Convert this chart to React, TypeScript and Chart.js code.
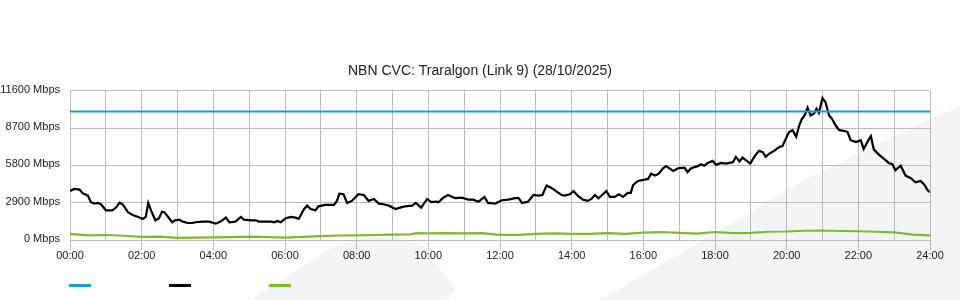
import { useEffect, useRef } from "react";
import { Chart, registerables } from "chart.js";

Chart.register(...registerables);

const chartTitle = "NBN CVC: Traralgon (Link 9) (28/10/2025)";
const yMax = 11600;
const yStep = 2900;

const capacityMinutes = [0, 1440];
const capacityMbps = [10000, 10000];

const trafficMinutes = [
  0, 7, 16, 21, 30, 35, 41, 46, 52, 60, 71, 77, 83, 88, 97, 105, 113, 122, 127, 131,
  136, 143, 149, 154, 158, 164, 171, 176, 183, 189, 197, 205, 210, 222, 233, 244, 252, 261, 267, 277,
  286, 291, 303, 311, 316, 328, 336, 342, 347, 353, 361, 370, 378, 383, 392, 397, 403, 411, 416, 427,
  442, 447, 451, 458, 464, 472, 483, 492, 500, 509, 517, 525, 534, 545, 553, 561, 573, 579, 588, 598,
  605, 613, 617, 625, 633, 645, 656, 667, 675, 684, 694, 700, 712, 723, 734, 745, 751, 757, 767, 776,
  784, 791, 798, 807, 815, 823, 828, 837, 843, 851, 859, 867, 873, 879, 885, 891, 898, 904, 912, 919,
  926, 934, 939, 943, 951, 962, 968, 973, 979, 985, 993, 998, 1010, 1018, 1029, 1034, 1040, 1051, 1057, 1062,
  1068, 1076, 1082, 1090, 1098, 1110, 1115, 1121, 1126, 1132, 1139, 1147, 1154, 1160, 1165, 1171, 1179, 1188, 1193, 1199,
  1204, 1210, 1216, 1221, 1225, 1230, 1235, 1240, 1246, 1250, 1254, 1260, 1265, 1271, 1276, 1282, 1288, 1296, 1302, 1307,
  1316, 1324, 1329, 1335, 1341, 1346, 1355, 1363, 1371, 1377, 1382, 1391, 1399, 1408, 1416, 1424, 1431, 1436, 1440,
];

const trafficMbps = [
  3810, 3970, 3920, 3640, 3450, 2940, 2830, 2880, 2780, 2310, 2310, 2520, 2900, 2780, 2160, 1950, 1810, 1640, 1810, 2880,
  2260, 1530, 1690, 2200, 2160, 1810, 1380, 1530, 1580, 1430, 1320, 1320, 1380, 1430, 1430, 1270, 1430, 1740, 1380, 1430,
  1790, 1580, 1530, 1530, 1430, 1430, 1430, 1380, 1480, 1380, 1690, 1790, 1740, 1640, 2410, 2670, 2410, 2310, 2620, 2730,
  2730, 3040, 3600, 3560, 2880, 3040, 3560, 3500, 3040, 3190, 2830, 2780, 2670, 2410, 2520, 2620, 2670, 2880, 2520, 3190,
  2940, 2980, 2940, 3290, 3500, 3250, 3290, 3140, 3140, 2980, 3350, 2880, 2830, 3090, 3140, 3250, 3250, 2880, 2980, 3500,
  3450, 3500, 4230, 4030, 3760, 3500, 3450, 3560, 3810, 3400, 3140, 3040, 3190, 3500, 3250, 3500, 3810, 3350, 3350, 3560,
  3350, 3660, 3660, 4280, 4590, 4690, 4750, 5160, 5010, 5120, 5580, 5740, 5370, 5580, 5630, 5270, 5580, 5740, 5890, 5780,
  5990, 6150, 5840, 5990, 5940, 6050, 6460, 6100, 6410, 6200, 5940, 6560, 6930, 6830, 6460, 6720, 6930, 7240, 7300, 7920,
  8390, 8540, 8020, 8900, 9370, 9680, 10300, 9680, 9830, 10200, 9890, 11030, 10720, 9680, 9420, 8900, 8540, 8490, 8390, 7760,
  7610, 7760, 7080, 7610, 8070, 7030, 6620, 6310, 5990, 5890, 5430, 5780, 5010, 4800, 4490, 4590, 4280, 3870, 3710,
];

const otherMinutes = [
  0, 30, 60, 90, 120, 150, 180, 210, 240, 270, 300, 330, 360, 390, 420, 450, 480, 510, 540, 570, 580,
  600, 630, 660, 690, 720, 750, 780, 810, 840, 870, 900, 930, 960, 990, 1020, 1050, 1080, 1110, 1140,
  1170, 1200, 1230, 1260, 1290, 1320, 1350, 1380, 1410, 1440,
];
const otherMbps = [
  470, 360, 390, 330, 240, 260, 160, 190, 200, 220, 260, 230, 180, 250, 300, 350, 360, 390, 420, 440, 540,
  520, 540, 520, 540, 400, 400, 480, 520, 480, 480, 530, 480, 580, 620, 560, 500, 620, 540, 560,
  640, 660, 720, 740, 700, 680, 640, 600, 420, 360,
];

const gridColor = "#bcbcbc";
const fontFamily = "'Liberation Sans', Arial, sans-serif";

function hhmm(m: number) {
  const h = Math.floor(m / 60);
  const mm = m % 60;
  return String(h).padStart(2, "0") + ":" + String(mm).padStart(2, "0");
}

function toPoints(xs: number[], ys: number[]) {
  return xs.map((x, i) => ({ x, y: ys[i] }));
}

const watermarkPlugin = {
  id: "watermark",
  beforeDraw(chart: any) {
    const ctx = chart.ctx as CanvasRenderingContext2D;
    ctx.save();
    ctx.fillStyle = "#f3f4f6";
    ctx.beginPath();
    ctx.moveTo(600, 300);
    ctx.lineTo(687, 250);
    ctx.lineTo(804, 180);
    ctx.lineTo(932, 118);
    ctx.lineTo(960, 107);
    ctx.lineTo(960, 300);
    ctx.closePath();
    ctx.fill();
    ctx.beginPath();
    ctx.moveTo(250, 300);
    ctx.lineTo(338, 244);
    ctx.quadraticCurveTo(390, 228, 425, 246);
    ctx.lineTo(455, 290);
    ctx.lineTo(447, 300);
    ctx.closePath();
    ctx.fill();
    ctx.restore();
  },
};

const lineLegendPlugin = {
  id: "lineLegend",
  afterDraw(chart: any) {
    const ctx = chart.ctx as CanvasRenderingContext2D;
    const left = chart.chartArea.left;
    ctx.save();
    chart.data.datasets.forEach((ds: any, i: number) => {
      ctx.strokeStyle = ds.borderColor;
      ctx.lineWidth = 3;
      ctx.beginPath();
      ctx.moveTo(left - 1 + i * 100, 285.5);
      ctx.lineTo(left - 1 + i * 100 + 22, 285.5);
      ctx.stroke();
    });
    ctx.restore();
  },
};

export default function App() {
  const canvasRef = useRef<HTMLCanvasElement | null>(null);

  useEffect(() => {
    if (!canvasRef.current) return;
    const chart = new Chart(canvasRef.current, {
      type: "line",
      data: {
        datasets: [
          {
            label: "Capacity",
            data: toPoints(capacityMinutes, capacityMbps),
            borderColor: "#1b9bd8",
            borderWidth: 2,
            pointRadius: 0,
          },
          {
            label: "Traffic",
            data: toPoints(trafficMinutes, trafficMbps),
            borderColor: "#000000",
            borderWidth: 2.2,
            pointRadius: 0,
          },
          {
            label: "Other",
            data: toPoints(otherMinutes, otherMbps),
            borderColor: "#7dbb2a",
            borderWidth: 2.2,
            pointRadius: 0,
          },
        ],
      },
      options: {
        responsive: false,
        animation: false,
        layout: { padding: 0 },
        plugins: {
          legend: { display: false },
          tooltip: { enabled: false },
          title: {
            display: true,
            text: chartTitle,
            color: "#222",
            font: { family: fontFamily, size: 14, weight: "normal", lineHeight: 1.2 },
            padding: { top: 63, bottom: 11 },
          },
        },
        scales: {
          x: {
            type: "linear",
            min: 0,
            max: 1440,
            afterFit(scale: any) {
              scale.height = 60;
            },
            border: { color: gridColor },
            grid: {
              color: gridColor,
              tickLength: 10,
              tickColor: (c: any) => (c.tick && c.tick.value % 120 === 0 ? gridColor : "rgba(0,0,0,0)"),
            },
            ticks: {
              stepSize: 60,
              autoSkip: false,
              maxRotation: 0,
              color: "#222",
              padding: -1,
              font: { family: fontFamily, size: 11 },
              callback: (v: any) => (Number(v) % 120 === 0 ? hhmm(Number(v)) : ""),
            },
          },
          y: {
            min: 0,
            max: yMax,
            afterFit(scale: any) {
              scale.width = 70;
            },
            border: { color: gridColor },
            grid: { color: gridColor, drawTicks: false },
            ticks: {
              stepSize: yStep,
              color: "#222",
              padding: 10,
              labelOffset: -1,
              font: { family: fontFamily, size: 11 },
              callback: (v: any) => v + " Mbps",
            },
          },
          spacer: {
            type: "linear",
            position: "right",
            display: true,
            afterFit(scale: any) {
              scale.width = 30;
            },
            grid: { display: false, drawTicks: false },
            border: { display: false },
            ticks: { display: false },
          },
        },
      },
      plugins: [watermarkPlugin, lineLegendPlugin],
    } as any);
    return () => chart.destroy();
  }, []);

  return (
    <div style={{ position: "absolute", left: 0, top: 0, width: 960, height: 300, background: "#fff" }}>
      <canvas ref={canvasRef} width={960} height={300} />
    </div>
  );
}
